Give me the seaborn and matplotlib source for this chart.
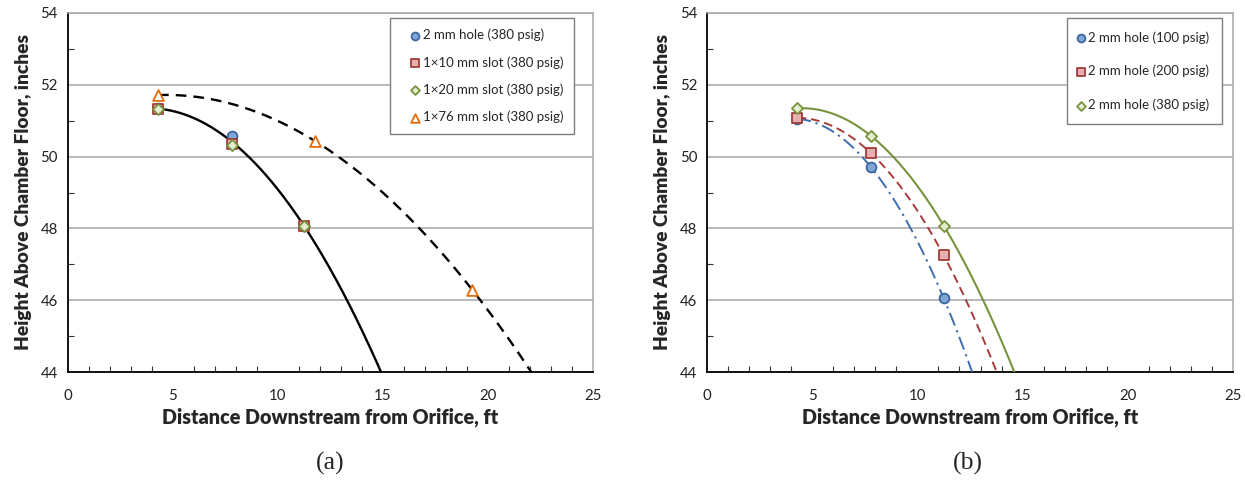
import numpy as np
import pandas as pd
import matplotlib
matplotlib.use("Agg")
import matplotlib.pyplot as plt
from matplotlib.ticker import MultipleLocator
import seaborn as sns

# ---------------- data ----------------
x_a = [4.3, 7.8, 11.25]
hole380_a = [51.35, 50.57, 48.07]
slot10_a = [51.32, 50.35, 48.07]
slot20_a = [51.32, 50.33, 48.07]
x_76 = [4.3, 11.77, 19.26]
slot76_a = [51.71, 50.43, 46.29]

x_b = [4.3, 7.8, 11.25]
hole100_b = [51.05, 49.70, 46.06]
hole200_b = [51.08, 50.09, 47.25]
hole380_b = [51.34, 50.57, 48.08]

labels_a = ["2 mm hole (380 psig)", "1\u00d710 mm slot (380 psig)",
            "1\u00d720 mm slot (380 psig)", "1\u00d776 mm slot (380 psig)"]
labels_b = ["2 mm hole (100 psig)", "2 mm hole (200 psig)", "2 mm hole (380 psig)"]

xticks = [0, 5, 10, 15, 20, 25]
yticks = [44, 46, 48, 50, 52, 54]

sns.set_theme(style="white")
plt.rcParams['font.family'] = ['Lato', 'DejaVu Sans']

fig = plt.figure(figsize=(12.45, 4.82), dpi=100)
W, H = 1245, 482
axA = fig.add_axes([67.7 / W, (H - 372.3) / H, (593 - 67.7) / W, (372.3 - 12.7) / H])
axB = fig.add_axes([707 / W, (H - 372.3) / H, (1233 - 707) / W, (372.3 - 12.7) / H])

BLUE_F, BLUE_E = "#7FA6D6", "#3B66A0"
RED_F, RED_E = "#E6B0AE", "#A13B38"
GRN_F, GRN_E = "#E4EDCF", "#77933C"
ORG_F, ORG_E = "#FFFFFF", "#E46C0A"


def trend(ax, xs, ys, **kw):
    c = np.polyfit(xs, ys, 2)
    xx = np.linspace(min(xs), 25, 400)
    yy = np.polyval(c, xx)
    df = pd.DataFrame({"x": xx, "y": yy})
    sns.lineplot(data=df, x="x", y="y", ax=ax, legend=False, **kw)


def pts(ax, xs, ys, marker, fc, ec, label, size=50, z=5):
    sns.scatterplot(x=xs, y=ys, ax=ax, marker=marker, s=size, facecolor=fc,
                    edgecolor=ec, linewidth=1.3, label=label, zorder=z)


def style(ax):
    ax.set_xlim(0, 25)
    ax.set_ylim(44, 54)
    ax.set_xticks(xticks)
    ax.set_yticks(yticks)
    ax.xaxis.set_minor_locator(MultipleLocator(1))
    ax.yaxis.set_minor_locator(MultipleLocator(1))
    ax.tick_params(axis="x", which="major", direction="in", length=5, width=1,
                   color="#333333", labelsize=10.8, pad=12, labelcolor="#222222")
    ax.tick_params(axis="x", which="minor", direction="in", length=4, width=0.8,
                   color="#333333", bottom=True)
    ax.tick_params(axis="y", which="major", length=0, labelsize=10.8, pad=7,
                   labelcolor="#222222")
    ax.tick_params(axis="y", which="minor", direction="in", length=4, width=0.8,
                   color="#333333", left=True)
    ax.grid(axis="y", which="major", color="#A6A6A6", linewidth=1.1)
    ax.set_axisbelow(True)
    for s in ["top", "right"]:
        ax.spines[s].set_visible(True)
        ax.spines[s].set_color("#A6A6A6")
        ax.spines[s].set_linewidth(1.1)
    for s in ["left", "bottom"]:
        ax.spines[s].set_color("black")
        ax.spines[s].set_linewidth(1.3)
    ax.set_xlabel("Distance Downstream from Orifice, ft", fontsize=14.2,
                  fontweight="heavy", labelpad=3)
    ax.set_ylabel("Height Above Chamber Floor, inches", fontsize=13.8,
                  fontweight="heavy", labelpad=6)


# ---------------- panel (a) ----------------
xs_all = x_a * 3
ys_all = hole380_a + slot10_a + slot20_a
trend(axA, xs_all, ys_all, color="black", linewidth=1.7, zorder=3)
trend(axA, x_76, slot76_a, color="black", linewidth=1.7, zorder=3,
      dashes=(4.5, 3))
pts(axA, x_a, hole380_a, "o", BLUE_F, BLUE_E, labels_a[0])
pts(axA, x_a, slot10_a, "s", RED_F, RED_E, labels_a[1])
pts(axA, x_a, slot20_a, "D", GRN_F, GRN_E, labels_a[2], size=32)
pts(axA, x_76, slot76_a, "^", ORG_F, ORG_E, labels_a[3], size=60)
style(axA)

# ---------------- panel (b) ----------------
trend(axB, x_b, hole100_b, color="#3E6EAD", linewidth=1.4, zorder=3,
      dashes=(7, 2.5, 1.2, 2.5))
trend(axB, x_b, hole200_b, color="#A63D3A", linewidth=1.4, zorder=3,
      dashes=(4.5, 2.5))
trend(axB, x_b, hole380_b, color="#77933C", linewidth=1.5, zorder=3)
pts(axB, x_b, hole100_b, "o", BLUE_F, BLUE_E, labels_b[0])
pts(axB, x_b, hole200_b, "s", RED_F, RED_E, labels_b[1])
pts(axB, x_b, hole380_b, "D", GRN_F, GRN_E, labels_b[2], size=32)
style(axB)

for ax, anchor, hl, tp, ls, bp in [(axA, (0.964, 0.985), 2.2, -0.48, 1.12, 0.8),
                                   (axB, (0.979, 0.985), 0.15, 0.45, 1.6, 1.0)]:
    leg = ax.legend(loc="upper right", bbox_to_anchor=anchor, frameon=True,
                    fancybox=False, fontsize=9.5, labelspacing=ls,
                    handletextpad=tp, handlelength=hl, borderpad=bp,
                    borderaxespad=0.0, markerscale=0.8)
    fr = leg.get_frame()
    fr.set_edgecolor("#7F7F7F")
    fr.set_linewidth(1.0)
    fr.set_facecolor("white")
    fr.set_alpha(1)

fig.text(330 / W, 1 - 463 / H, "(a)", fontsize=18.5, ha="center", va="center",
         family=["Liberation Serif", "DejaVu Serif"])
fig.text(968 / W, 1 - 463 / H, "(b)", fontsize=18.5, ha="center", va="center",
         family=["Liberation Serif", "DejaVu Serif"])

fig.savefig("out.png", dpi=100, facecolor="white")
